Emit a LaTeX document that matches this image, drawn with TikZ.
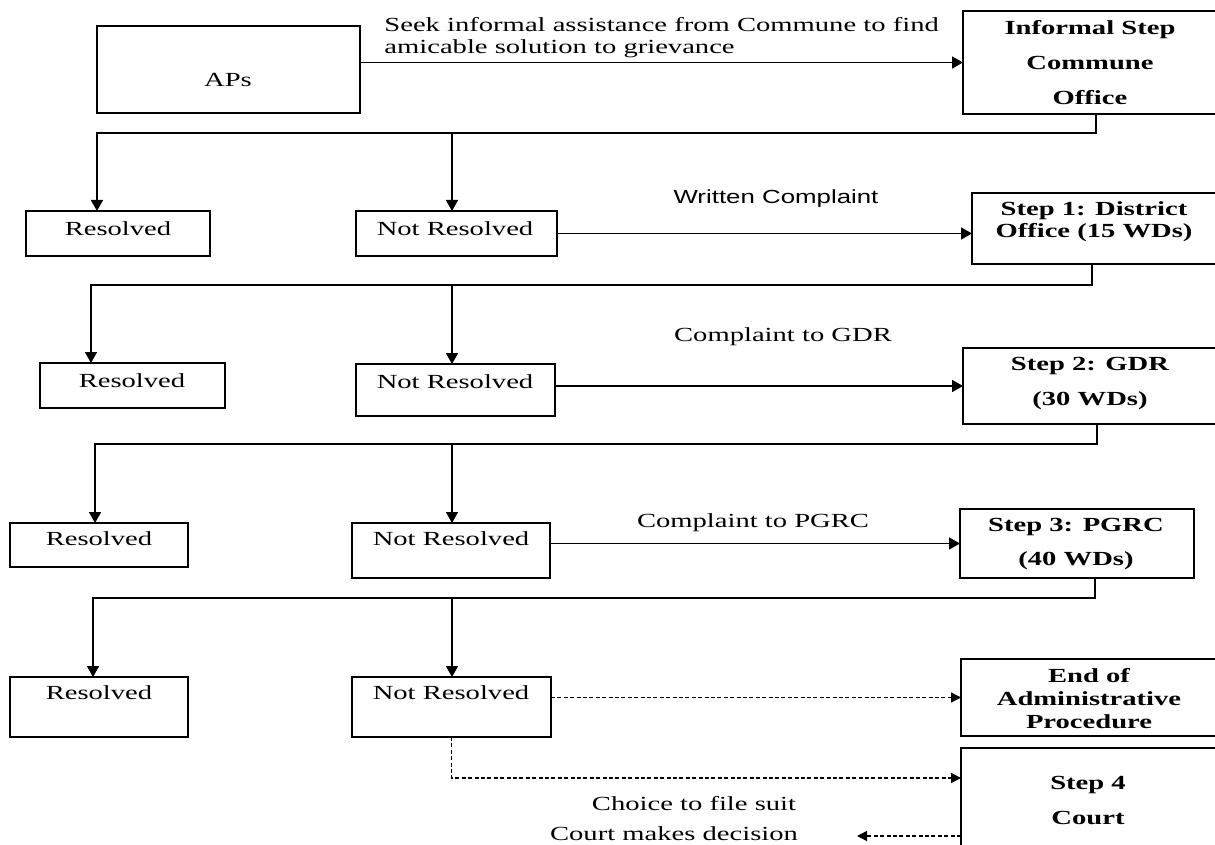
\documentclass[tikz,border=0pt]{standalone}
\usepackage{fontspec}
\setmainfont{Liberation Serif}[FakeStretch=1.43]
\newfontfamily\sansf{Liberation Sans}[FakeStretch=1.36]
\usetikzlibrary{arrows.meta,fit,calc}
\begin{document}
\begin{tikzpicture}[x=0.5pt,y=-0.5pt,
  box/.style={draw, line width=0.75pt, inner sep=0pt, outer sep=0pt, rectangle},
  lbl/.style={inner sep=0pt, font=\fontsize{10}{12}\selectfont},
  blbl/.style={inner sep=0pt, align=center, font=\bfseries\fontsize{10}{#1}\selectfont},
  link/.style={line width=0.8pt},
  arr/.style={link, -{Triangle[length=5.5pt,width=6pt]}},
  darr/.style={line width=0.7pt, dash pattern=on 2pt off 1.2pt, -{Triangle[length=5pt,width=5pt]}}]
\useasboundingbox (0,0) rectangle (1215,845);
\clip (0,0) rectangle (1215,845);
% boxes
\node[box, fit={(97,26) (360,113)}] (aps) {};
\node[box, fit={(963,11) (1225,114)}] (inf) {};
\node[box, fit={(26,211) (210,256)}] (r1) {};
\node[box, fit={(356,211) (557,256)}] (nr1) {};
\node[box, line width=1.3pt, fit={(972,193) (1225,264)}] (s1) {};
\node[box, fit={(40,363) (225,408)}] (r2) {};
\node[box, fit={(356,364) (555,416)}] (nr2) {};
\node[box, fit={(963,348) (1225,424)}] (s2) {};
\node[box, fit={(10,523) (188,567)}] (r3) {};
\node[box, fit={(352,523) (550,578)}] (nr3) {};
\node[box, fit={(960,509) (1194,578)}] (s3) {};
\node[box, fit={(10,677) (188,737)}] (r4) {};
\node[box, fit={(352,677) (551,737)}] (nr4) {};
\node[box, fit={(961,659) (1225,736)}] (endp) {};
\node[box, fit={(961,748) (1225,870)}] (s4) {};
% box texts
\node[lbl] (taps) at (228,80) {APs};
\node[lbl] (tr1) at (118,229) {Resolved};
\node[lbl] (tnr1) at (455,229) {Not Resolved};
\node[lbl] (tr2) at (132,381) {Resolved};
\node[lbl] (tnr2) at (455,382) {Not Resolved};
\node[lbl] (tr3) at (99,539) {Resolved};
\node[lbl] (tnr3) at (451,539) {Not Resolved};
\node[lbl] (tr4) at (99,693) {Resolved};
\node[lbl] (tnr4) at (451,693) {Not Resolved};
\node[blbl=17.5] (tinf) at (1090,63) {Informal Step\\Commune\\Office};
\node[blbl=11] (ts1) at (1094,222) {Step 1: District\\Office (15 WDs)};
\node[blbl=17.5] (ts2) at (1090,384) {Step 2: GDR\\(30 WDs)};
\node[blbl=17] (ts3) at (1076,544) {Step 3: PGRC\\(40 WDs)};
\node[blbl=11.5] (tend) at (1089,699) {End of\\Administrative\\Procedure};
\node[blbl=17.5] (ts4) at (1088,800) {Step 4\\Court};
% connector labels
\node[lbl, anchor=west, align=left, font=\fontsize{10}{11}\selectfont] (seek) at (384,38)
  {Seek informal assistance from Commune to find\\amicable solution to grievance};
\node[lbl, font=\sansf\fontsize{9.5}{11}\selectfont] (wc) at (776,199) {Written Complaint};
\node[lbl] (cgdr) at (783,337) {Complaint to GDR};
\node[lbl] (cpgrc) at (753,523) {Complaint to PGRC};
\node[lbl] (choice) at (694,804) {Choice to file suit};
\node[lbl] (court) at (674,834) {Court makes decision};
% connectors
\coordinate (b0) at (1096,133); \coordinate (l0) at (97,133); \coordinate (d0) at (452,133);
\coordinate (b1) at (1092,285); \coordinate (l1) at (91,285); \coordinate (d1) at (452,285);
\coordinate (b2) at (1097,444); \coordinate (l2) at (95,444); \coordinate (d2) at (452,444);
\coordinate (b3) at (1095,598); \coordinate (l3) at (93,598); \coordinate (d3) at (452,598);
\coordinate (c4) at (961,778);
\coordinate (cm) at (857,836);
\draw[arr] (inf.west -| aps.east) -- (inf.west);
\draw[arr] (inf.south -| b0) -- (b0) -- (l0) -- (l0 |- r1.north);
\draw[arr] (d0) -- (d0 |- nr1.north);
\draw[arr] (nr1.east) -- (nr1.east -| s1.west);
\draw[arr] (s1.south -| b1) -- (b1) -- (l1) -- (l1 |- r2.north);
\draw[arr] (d1) -- (d1 |- nr2.north);
\draw[arr] (s2.west -| nr2.east) -- (s2.west);
\draw[arr] (s2.south -| b2) -- (b2) -- (l2) -- (l2 |- r3.north);
\draw[arr] (d2) -- (d2 |- nr3.north);
\draw[arr] (s3.west -| nr3.east) -- (s3.west);
\draw[arr] (s3.south -| b3) -- (b3) -- (l3) -- (l3 |- r4.north);
\draw[arr] (d3) -- (d3 |- nr4.north);
\draw[darr] (endp.west -| nr4.east) -- (endp.west);
\draw[darr] (nr4.south) -- (nr4.south |- c4) -- (s4.west |- c4);
\draw[darr] (s4.west |- cm) -- (cm);
\end{tikzpicture}
\end{document}
